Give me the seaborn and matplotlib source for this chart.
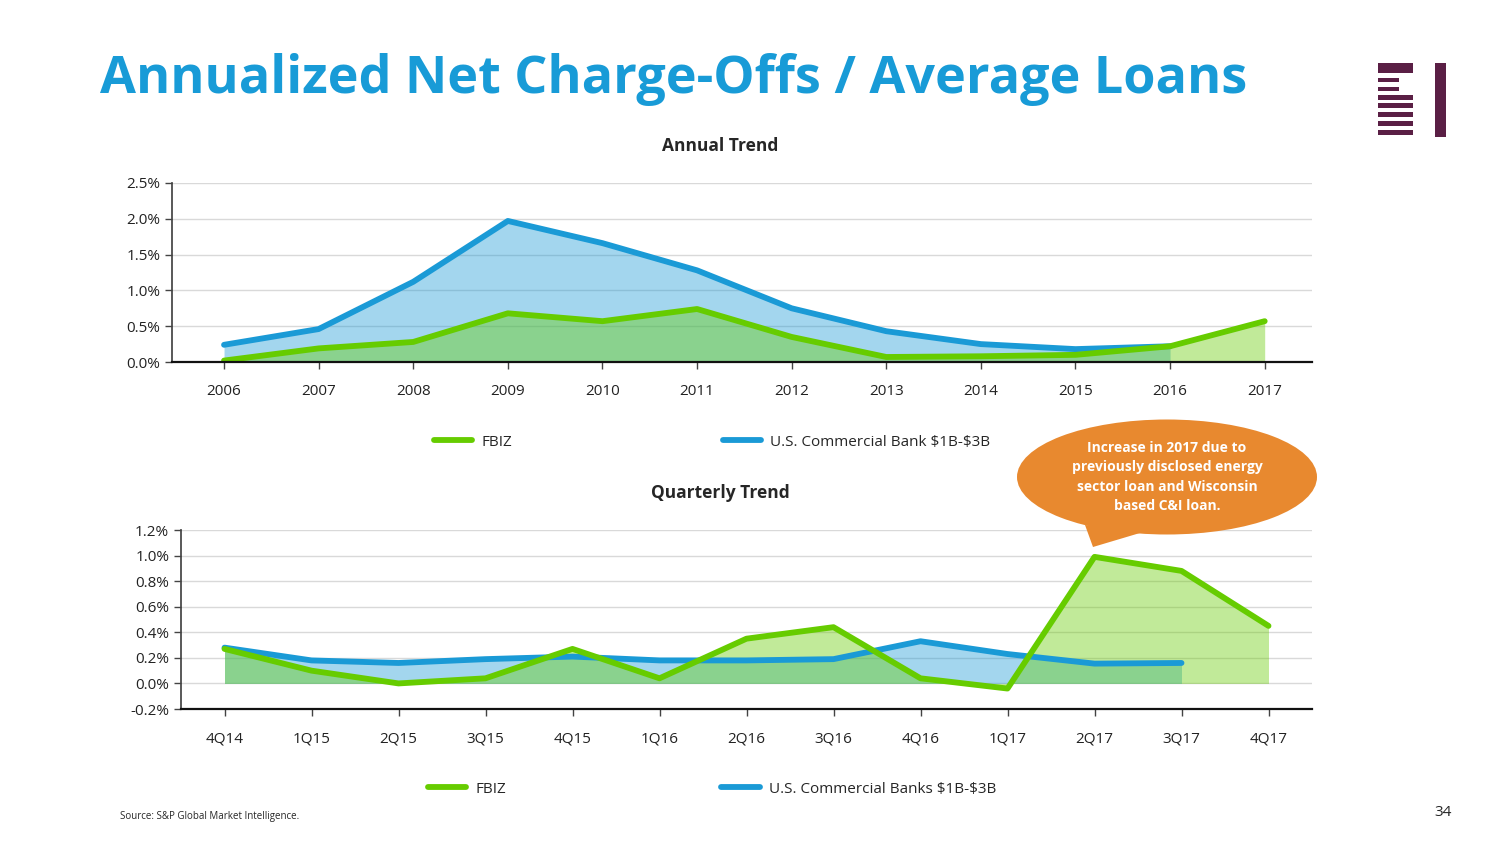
import numpy as np
import pandas as pd
import matplotlib
matplotlib.use("Agg")
import matplotlib.pyplot as plt
import matplotlib.patches as mpatches
import seaborn as sns

# annual data (%)
years = ["2006", "2007", "2008", "2009", "2010", "2011", "2012", "2013", "2014", "2015", "2016", "2017"]
fbiz_annual = [0.02, 0.19, 0.28, 0.68, 0.57, 0.74, 0.35, 0.07, 0.08, 0.10, 0.22, 0.57]
bank_annual = [0.24, 0.46, 1.12, 1.97, 1.66, 1.28, 0.75, 0.43, 0.25, 0.18, 0.22]

# quarterly data (%)
quarters = ["4Q14", "1Q15", "2Q15", "3Q15", "4Q15", "1Q16", "2Q16", "3Q16", "4Q16", "1Q17", "2Q17", "3Q17", "4Q17"]
fbiz_q = [0.27, 0.10, 0.00, 0.04, 0.27, 0.04, 0.35, 0.44, 0.04, -0.04, 0.99, 0.88, 0.45]
bank_q = [0.28, 0.18, 0.16, 0.19, 0.21, 0.18, 0.18, 0.19, 0.33, 0.23, 0.155, 0.16]

GREEN = "#66cc00"
BLUE = "#1a9ad6"
TITLE_BLUE = "#189bd7"
PURPLE = "#5a1f45"

sns.set_theme(style="white")
plt.rcParams["font.family"] = ["Open Sans", "DejaVu Sans"]

W, H = 1504, 846
fig = plt.figure(figsize=(W / 100, H / 100), dpi=100)


def fx(px):
    return px / W


def fy(py):
    return 1 - py / H


def draw_panel(ax, cats, fbiz, bank, ylim, yticks, bank_label, xpad=0.5):
    xb = np.arange(len(bank))
    xf = np.arange(len(fbiz))
    ax.fill_between(xb, 0, bank, color=BLUE, alpha=0.4, linewidth=0)
    sns.lineplot(x=xb, y=bank, ax=ax, color=BLUE, linewidth=4.2, label=bank_label)
    ax.fill_between(xf, 0, fbiz, color=GREEN, alpha=0.4, linewidth=0)
    sns.lineplot(x=xf, y=fbiz, ax=ax, color=GREEN, linewidth=4.2, label="FBIZ")
    ax.set_xlim(-xpad, len(cats) - 0.5)
    ax.set_ylim(*ylim)
    ax.set_yticks(yticks)
    ax.set_yticklabels([f"{t:.1f}%" for t in yticks], fontsize=11, color="#222222")
    ax.set_xticks(np.arange(len(cats)))
    ax.set_xticklabels(cats, fontsize=11, color="#222222")
    ax.tick_params(axis="x", pad=11, length=5, width=1, color="#444444", direction="out", bottom=True)
    ax.tick_params(axis="y", length=5, width=1, color="#444444", direction="out", left=True)
    for t in yticks:
        ax.axhline(t, color="#d9d9d9", linewidth=1, zorder=0)
    for s in ["top", "right"]:
        ax.spines[s].set_visible(False)
    ax.spines["left"].set_color("#444444")
    ax.spines["bottom"].set_color("#111111")
    ax.spines["bottom"].set_linewidth(1.6)
    ax.legend_.remove()


# annual panel
ax1 = fig.add_axes([fx(172), fy(362), fx(1312) - fx(172), fy(183) - fy(362)])
draw_panel(ax1, years, fbiz_annual, bank_annual, (0, 2.5), [0.0, 0.5, 1.0, 1.5, 2.0, 2.5],
           r"U.S. Commercial Bank \$1B-\$3B", xpad=0.55)

# quarterly panel
ax2 = fig.add_axes([fx(181), fy(709), fx(1312) - fx(181), fy(530) - fy(709)])
draw_panel(ax2, quarters, fbiz_q, bank_q, (-0.2, 1.2), [-0.2, 0.0, 0.2, 0.4, 0.6, 0.8, 1.0, 1.2],
           r"U.S. Commercial Banks \$1B-\$3B")

# legends
for ax, cx, cy, cs in [(ax1, 712, 442, 13.8), (ax2, 712, 789, 14.1)]:
    h, l = ax.get_legend_handles_labels()
    fig.legend(h[::-1], l[::-1], loc="center", bbox_to_anchor=(fx(cx), fy(cy)), ncol=2,
               frameon=False, fontsize=11, handlelength=2.5, handletextpad=0.6,
               columnspacing=cs)

# titles
fig.text(fx(100), fy(80), "Annualized Net Charge-Offs / Average Loans", color=TITLE_BLUE,
         fontsize=37.5, fontweight="bold", ha="left", va="center")
fig.text(fx(720), fy(146), "Annual Trend", fontsize=12.5, fontweight="bold", ha="center", va="center")
fig.text(fx(720), fy(493), "Quarterly Trend", fontsize=12.5, fontweight="bold", ha="center", va="center")

# callout
ell = mpatches.Ellipse((fx(1167), fy(477)), fx(300), 115 / H, transform=fig.transFigure,
                       facecolor="#e8892f", edgecolor="none", zorder=5)
tail = mpatches.Polygon([(fx(1085), fy(525)), (fx(1093), fy(547)), (fx(1150), fy(530))],
                        closed=True, transform=fig.transFigure, facecolor="#e8892f",
                        edgecolor="none", zorder=5)
fig.patches.extend([ell, tail])
fig.text(fx(1167), fy(477), "Increase in 2017 due to\npreviously disclosed energy\nsector loan and Wisconsin\nbased C&I loan.",
         color="white", fontsize=10, fontweight="bold", ha="center", va="center",
         linespacing=1.5, zorder=6)

# logo
logo_rects = [
    (1378, 63, 35, 10),
    (1378, 78, 21, 4), (1378, 87, 21, 4),
    (1378, 95, 35, 5), (1378, 103, 35, 5), (1378, 112, 35, 5), (1378, 121, 35, 5), (1378, 130, 35, 5),
    (1435, 63, 11, 74),
]
for x0, y0, w, h in logo_rects:
    fig.patches.append(mpatches.Rectangle((fx(x0), fy(y0 + h)), w / W, h / H,
                                          transform=fig.transFigure, facecolor=PURPLE,
                                          edgecolor="none"))

# footer
fig.text(fx(120), fy(816), "Source: S&P Global Market Intelligence.", fontsize=7, ha="left", va="center")
fig.text(fx(1443), fy(812), "34", fontsize=11, ha="center", va="center")

fig.savefig("out.png", dpi=100)
